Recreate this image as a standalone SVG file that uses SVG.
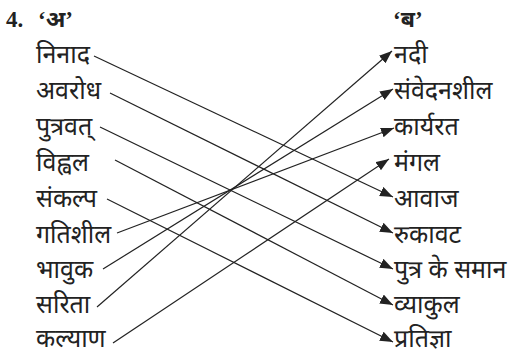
<svg xmlns="http://www.w3.org/2000/svg" width="512" height="357" viewBox="0 0 512 357">
<style>
.t{font-family:"Noto Sans Devanagari","Noto Sans","Liberation Serif",sans-serif;font-size:25px;fill:#222}
.h{font-family:"Liberation Serif","Noto Sans Devanagari",serif;font-size:23px;font-weight:bold;fill:#222}
.c line{stroke:#222;stroke-width:1.2;marker-end:url(#ah)}
</style>
<defs>
<marker id="ah" markerUnits="userSpaceOnUse" markerWidth="14" markerHeight="12" refX="13" refY="5" orient="auto">
<path d="M0,0 L13,5 L0,10 Z" fill="#222"/>
</marker>
</defs>
<rect width="512" height="357" fill="#fff"/>
<g id="title">
<text class="h" x="6" y="27">4.</text>
<text class="h" x="38" y="27">‘अ’</text>
<text class="h" x="393" y="27">‘ब’</text>
</g>
<g id="left">
<g id="l1"><text class="t" x="36" y="63">निनाद</text></g>
<g id="l2"><text class="t" x="36" y="99">अवरोध</text></g>
<g id="l3"><text class="t" x="36" y="135">पुत्रवत्</text></g>
<g id="l4"><text class="t" x="36" y="171">विह्वल</text></g>
<g id="l5"><text class="t" x="36" y="207">संकल्प</text></g>
<g id="l6"><text class="t" x="36" y="243">गतिशील</text></g>
<g id="l7"><text class="t" x="36" y="278">भावुक</text></g>
<g id="l8"><text class="t" x="36" y="313">सरिता</text></g>
<g id="l9"><text class="t" x="36" y="347">कल्याण</text></g>
</g>
<g id="right">
<g id="r1"><text class="t" x="394" y="63">नदी</text></g>
<g id="r2"><text class="t" x="394" y="99">संवेदनशील</text></g>
<g id="r3"><text class="t" x="394" y="135">कार्यरत</text></g>
<g id="r4"><text class="t" x="394" y="171">मंगल</text></g>
<g id="r5"><text class="t" x="394" y="207">आवाज</text></g>
<g id="r6"><text class="t" x="394" y="243">रुकावट</text></g>
<g id="r7"><text class="t" x="394" y="278">पुत्र के समान</text></g>
<g id="r8"><text class="t" x="394" y="313">व्याकुल</text></g>
<g id="r9"><text class="t" x="394" y="347">प्रतिज्ञा</text></g>
</g>
<g id="connectors" class="c">
<line x1="94" y1="56" x2="393" y2="197"/>
<line x1="110" y1="93" x2="393" y2="233"/>
<line x1="100" y1="127" x2="393" y2="269"/>
<line x1="115" y1="160" x2="393" y2="305"/>
<line x1="107" y1="199" x2="393" y2="342"/>
<line x1="117" y1="233" x2="394" y2="128"/>
<line x1="103" y1="269" x2="393" y2="89"/>
<line x1="97" y1="307" x2="392" y2="51"/>
<line x1="113" y1="343" x2="389" y2="159"/>
</g>
</svg>
